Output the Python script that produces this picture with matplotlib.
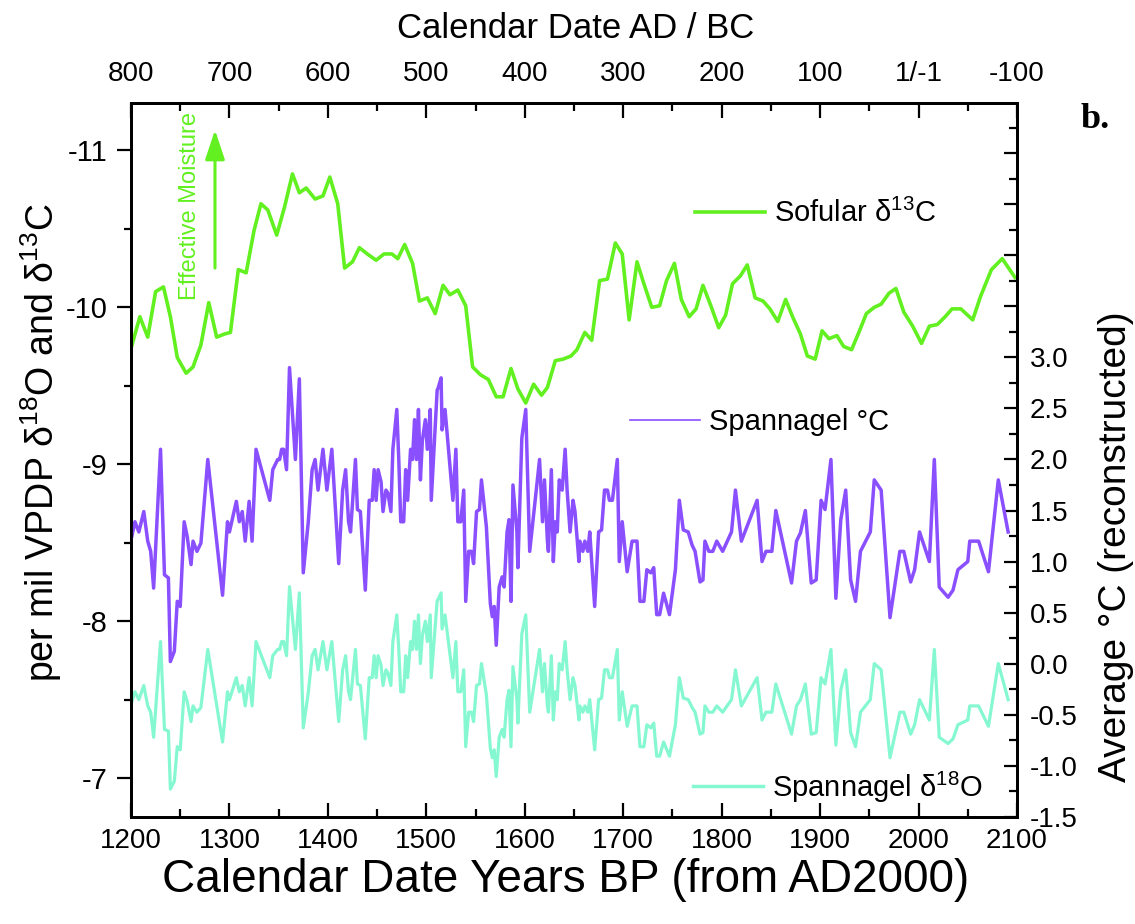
import numpy as np
import matplotlib
matplotlib.use("Agg")
import matplotlib.pyplot as plt
from matplotlib.lines import Line2D
from matplotlib.ticker import MultipleLocator

plt.rcParams["font.family"] = ["Liberation Sans", "DejaVu Sans"]
plt.rcParams["mathtext.fontset"] = "custom"
plt.rcParams["mathtext.rm"] = "Liberation Sans"
plt.rcParams["mathtext.it"] = "Liberation Sans:italic"
plt.rcParams["axes.unicode_minus"] = False

# -------- Sofular d13C (left axis, permil)
sof_years = [1201, 1209, 1217, 1225, 1233, 1240, 1247, 1256, 1263, 1271,
             1279, 1287, 1295, 1301, 1309, 1317, 1325, 1332, 1339, 1348,
             1356, 1364, 1371, 1378, 1387, 1395, 1402, 1410, 1417, 1425,
             1432, 1440, 1449, 1457, 1465, 1471, 1478, 1486, 1493, 1501,
             1509, 1517, 1524, 1532, 1540, 1547, 1555, 1563, 1571, 1578,
             1586, 1593, 1601, 1609, 1617, 1623, 1631, 1639, 1647, 1653,
             1661, 1668, 1676, 1684, 1692, 1699, 1706, 1714, 1721, 1729,
             1737, 1744, 1752, 1759, 1767, 1774, 1781, 1789, 1797, 1804,
             1811, 1819, 1826, 1834, 1842, 1849, 1857, 1865, 1872, 1880,
             1887, 1895, 1902, 1909, 1917, 1924, 1932, 1940, 1947, 1955,
             1962, 1970, 1977, 1985, 1994, 2003, 2011, 2019, 2027, 2034,
             2043, 2055, 2063, 2074, 2085, 2098]
sof_d13c = [-9.76, -9.94, -9.81, -10.10, -10.13, -9.94, -9.68, -9.58, -9.62, -9.76,
            -10.03, -9.81, -9.83, -9.84, -10.24, -10.22, -10.49, -10.66, -10.62, -10.46,
            -10.64, -10.85, -10.73, -10.76, -10.69, -10.71, -10.83, -10.66, -10.25, -10.29,
            -10.38, -10.34, -10.30, -10.34, -10.34, -10.31, -10.40, -10.28, -10.04, -10.06,
            -9.96, -10.14, -10.08, -10.11, -10.01, -9.62, -9.57, -9.54, -9.43, -9.43,
            -9.61, -9.48, -9.39, -9.51, -9.44, -9.49, -9.66, -9.67, -9.69, -9.73,
            -9.84, -9.79, -10.17, -10.18, -10.41, -10.34, -9.92, -10.29, -10.15, -10.00,
            -10.01, -10.17, -10.28, -10.05, -9.94, -9.99, -10.14, -10.01, -9.87, -9.95,
            -10.15, -10.20, -10.27, -10.06, -10.04, -9.99, -9.91, -10.05, -9.94, -9.83,
            -9.69, -9.67, -9.85, -9.80, -9.82, -9.75, -9.73, -9.85, -9.96, -10.00,
            -10.02, -10.09, -10.12, -9.97, -9.88, -9.77, -9.88, -9.89, -9.94, -9.99,
            -9.99, -9.92, -10.07, -10.24, -10.31, -10.19]

# -------- Spannagel (d18O on left axis, temperature on right axis)
span_years = [1200, 1204, 1208, 1213, 1217, 1220, 1223, 1230, 1234, 1238,
              1240, 1244, 1247, 1250, 1254, 1257, 1261, 1263, 1267, 1271,
              1278, 1293, 1298, 1300, 1307, 1310, 1313, 1316, 1320, 1323,
              1327, 1341, 1344, 1349, 1351, 1353, 1355, 1358, 1361, 1367,
              1371, 1375, 1380, 1384, 1387, 1390, 1395, 1399, 1404, 1411,
              1415, 1418, 1421, 1423, 1428, 1430, 1433, 1438, 1442, 1445,
              1447, 1449, 1451, 1454, 1456, 1459, 1461, 1464, 1466, 1470,
              1472, 1474, 1477, 1479, 1481, 1484, 1486, 1488, 1490, 1492,
              1494, 1496, 1499, 1501, 1504, 1505, 1511, 1512, 1515, 1516,
              1519, 1527, 1530, 1532, 1535, 1538, 1540, 1543, 1546, 1548,
              1551, 1554, 1556, 1561, 1565, 1567, 1569, 1571, 1574, 1577,
              1579, 1582, 1584, 1586, 1588, 1592, 1593, 1597, 1601, 1605,
              1615, 1618, 1620, 1623, 1624, 1627, 1629, 1631, 1633, 1635,
              1638, 1641, 1643, 1646, 1649, 1651, 1655, 1656, 1659, 1661,
              1664, 1666, 1671, 1675, 1678, 1681, 1684, 1686, 1689, 1694,
              1696, 1699, 1704, 1709, 1714, 1717, 1721, 1724, 1728, 1731,
              1734, 1737, 1741, 1747, 1753, 1757, 1761, 1766, 1770, 1773,
              1778, 1781, 1783, 1787, 1791, 1795, 1801, 1810, 1814, 1820,
              1836, 1841, 1845, 1851, 1855, 1871, 1876, 1880, 1885, 1891,
              1896, 1901, 1905, 1911, 1916, 1921, 1926, 1931, 1936, 1941,
              1951, 1955, 1962, 1971, 1981, 1985, 1992, 1996, 2001, 2011,
              2016, 2021, 2030, 2035, 2040, 2050, 2052, 2061, 2071, 2081,
              2091]
span_temp = [1.21, 1.39, 1.29, 1.49, 1.20, 1.10, 0.74, 2.10, 0.87, 0.84,
             0.02, 0.12, 0.61, 0.56, 1.39, 1.25, 0.97, 1.20, 1.10, 1.18,
             2.00, 0.67, 1.39, 1.29, 1.59, 1.39, 1.49, 1.20, 1.59, 1.20,
             2.10, 1.60, 1.90, 2.00, 2.00, 2.10, 2.10, 1.90, 2.90, 2.00,
             2.79, 0.89, 1.38, 1.90, 2.00, 1.70, 2.10, 1.70, 2.10, 0.98,
             1.70, 1.90, 1.39, 1.29, 2.00, 1.51, 1.49, 0.72, 1.60, 1.60,
             1.90, 1.60, 1.90, 1.78, 1.49, 1.70, 1.67, 1.49, 2.10, 2.49,
             2.00, 1.39, 1.39, 1.90, 1.60, 2.10, 2.00, 2.39, 2.00, 2.49,
             1.80, 2.19, 2.39, 2.10, 2.49, 1.60, 2.68, 2.70, 2.80, 2.29,
             2.49, 1.60, 2.10, 1.39, 1.39, 1.70, 0.61, 1.10, 1.10, 0.98,
             1.49, 1.51, 1.80, 1.34, 0.59, 0.46, 0.56, 0.18, 0.75, 0.85,
             0.75, 1.29, 1.41, 0.61, 1.75, 1.29, 0.94, 2.21, 2.49, 1.10,
             2.00, 1.39, 1.80, 1.20, 1.10, 1.90, 1.00, 1.39, 1.29, 1.80,
             1.70, 2.10, 1.70, 1.29, 1.60, 1.49, 1.00, 1.20, 1.10, 1.20,
             1.10, 1.29, 0.56, 1.29, 1.31, 1.70, 1.70, 1.60, 1.60, 2.00,
             1.00, 1.39, 0.90, 1.20, 1.20, 0.61, 0.61, 0.92, 0.89, 0.94,
             0.48, 0.48, 0.69, 0.48, 0.92, 1.60, 1.31, 1.29, 1.16, 1.10,
             0.80, 0.82, 1.20, 1.10, 1.10, 1.20, 1.10, 1.29, 1.70, 1.20,
             1.60, 1.00, 1.10, 1.10, 1.50, 0.79, 1.20, 1.28, 1.50, 0.79,
             0.82, 1.60, 1.51, 2.00, 0.64, 1.41, 1.70, 0.82, 0.61, 1.10,
             1.29, 1.80, 1.70, 0.45, 1.10, 1.10, 0.80, 0.92, 1.29, 1.00,
             2.00, 0.75, 0.65, 0.72, 0.92, 1.00, 1.20, 1.20, 0.90, 1.80,
             1.29]
span_d18o = [-7.47, -7.55, -7.50, -7.59, -7.46, -7.42, -7.26, -7.87, -7.31, -7.30,
             -6.93, -6.98, -7.20, -7.18, -7.55, -7.49, -7.36, -7.46, -7.42, -7.45,
             -7.82, -7.23, -7.55, -7.50, -7.64, -7.55, -7.59, -7.46, -7.64, -7.46,
             -7.87, -7.64, -7.78, -7.82, -7.82, -7.87, -7.87, -7.78, -8.22, -7.82,
             -8.18, -7.32, -7.54, -7.78, -7.82, -7.69, -7.87, -7.69, -7.87, -7.36,
             -7.69, -7.78, -7.55, -7.50, -7.82, -7.60, -7.59, -7.25, -7.64, -7.64,
             -7.78, -7.64, -7.78, -7.72, -7.59, -7.69, -7.67, -7.59, -7.87, -8.04,
             -7.82, -7.55, -7.55, -7.78, -7.64, -7.87, -7.82, -8.00, -7.82, -8.04,
             -7.73, -7.91, -8.00, -7.87, -8.04, -7.64, -8.13, -8.14, -8.18, -7.95,
             -8.04, -7.64, -7.87, -7.55, -7.55, -7.69, -7.20, -7.42, -7.42, -7.36,
             -7.59, -7.60, -7.73, -7.53, -7.19, -7.13, -7.18, -7.01, -7.26, -7.31,
             -7.26, -7.50, -7.56, -7.20, -7.71, -7.50, -7.35, -7.92, -8.04, -7.42,
             -7.82, -7.55, -7.73, -7.46, -7.42, -7.78, -7.37, -7.55, -7.50, -7.73,
             -7.69, -7.87, -7.69, -7.50, -7.64, -7.59, -7.37, -7.46, -7.42, -7.46,
             -7.42, -7.50, -7.18, -7.50, -7.51, -7.69, -7.69, -7.64, -7.64, -7.82,
             -7.37, -7.55, -7.33, -7.46, -7.46, -7.20, -7.20, -7.34, -7.32, -7.35,
             -7.14, -7.14, -7.23, -7.14, -7.34, -7.64, -7.51, -7.50, -7.45, -7.42,
             -7.28, -7.29, -7.46, -7.42, -7.42, -7.46, -7.42, -7.50, -7.69, -7.46,
             -7.64, -7.37, -7.42, -7.42, -7.60, -7.28, -7.46, -7.50, -7.60, -7.28,
             -7.29, -7.64, -7.60, -7.82, -7.21, -7.56, -7.69, -7.29, -7.20, -7.42,
             -7.50, -7.73, -7.69, -7.13, -7.42, -7.42, -7.28, -7.34, -7.50, -7.37,
             -7.82, -7.26, -7.22, -7.25, -7.34, -7.37, -7.46, -7.46, -7.33, -7.73,
             -7.50]

# -------- ticks
bp_ticks = list(range(1200, 2101, 100))
ad_labels = ["800", "700", "600", "500", "400", "300", "200", "100", "1/-1", "-100"]
left_ticks = [-11, -10, -9, -8, -7]
left_labels = ["-11", "-10", "-9", "-8", "-7"]
right_ticks = [-1.5, -1.0, -0.5, 0.0, 0.5, 1.0, 1.5, 2.0, 2.5, 3.0, 3.5, 4.0, 4.5, 5.0]
right_labels = ["-1.5", "-1.0", "-0.5", "0.0", "0.5", "1.0", "1.5", "2.0", "2.5", "3.0",
                "", "", "", ""]

GREEN = "#62F020"
PURPLE = "#8A4FFF"
TEAL = "#85F8D2"

W, H = 1135, 924
fig = plt.figure(figsize=(W / 100, H / 100), dpi=100)
ax = fig.add_axes([131 / W, 1 - 816.7 / H, 886 / W, 713.4 / H])
ax2 = ax.twinx()

ax.plot(sof_years, sof_d13c, color=GREEN, lw=2.6)
ax.plot(span_years, span_d18o, color=TEAL, lw=2.3)
ax2.plot(span_years, span_temp, color=PURPLE, lw=2.5)

ax.set_xlim(1200, 2100)
ax.set_ylim(-6.754, -11.30)
ax2.set_ylim(-1.5, 5.49)

# bottom axis
ax.set_xticks(bp_ticks)
ax.xaxis.set_minor_locator(MultipleLocator(50))
ax.tick_params(axis="x", which="major", direction="in", length=10, width=1.6,
               labelsize=20, pad=8)
ax.tick_params(axis="x", which="minor", direction="in", length=6, width=1.6)

# left axis
ax.set_yticks(left_ticks, left_labels)
ax.yaxis.set_minor_locator(MultipleLocator(0.5))
ax.tick_params(axis="y", which="major", direction="out", length=10, width=1.6,
               labelsize=21, pad=7)
ax.tick_params(axis="y", which="minor", direction="out", length=5, width=1.6)

# right axis
ax2.set_yticks(right_ticks, right_labels)
ax2.yaxis.set_minor_locator(MultipleLocator(0.25))
ax2.tick_params(axis="y", which="major", direction="in", length=9.5, width=1.6,
                labelsize=20, pad=9)
ax2.tick_params(axis="y", which="minor", direction="in", length=6, width=1.6)

# top axis (calendar dates)
top = ax.secondary_xaxis("top")
top.set_xticks(bp_ticks, ad_labels)
top.xaxis.set_minor_locator(MultipleLocator(50))
top.tick_params(axis="x", which="major", direction="in", length=11, width=1.6,
                labelsize=20, pad=12)
top.tick_params(axis="x", which="minor", direction="in", length=6, width=1.6)

for a in (ax, ax2, top):
    for s in a.spines.values():
        s.set_linewidth(2.0)

# legends
h1 = Line2D([], [], color=GREEN, lw=2.6)
h2 = Line2D([], [], color=PURPLE, lw=1.2)
h3 = Line2D([], [], color=TEAL, lw=2.5)
leg_kw = dict(loc="center left", frameon=False, fontsize=21, handlelength=2.4,
              handletextpad=0.3, borderpad=0, borderaxespad=0)
leg1 = ax.legend([h1], ["Sofular δ$^{13}$C"], bbox_to_anchor=(0.6366, 0.846), **leg_kw)
ax.add_artist(leg1)
leg2 = ax.legend([h2], ["Spannagel °C"], bbox_to_anchor=(0.5632, 0.553), **leg_kw)
ax.add_artist(leg2)
ax.legend([h3], ["Spannagel δ$^{18}$O"], bbox_to_anchor=(0.6343, 0.0416), **leg_kw)

# effective moisture arrow
ax.text(0.0666, 0.856, "Effective Moisture", transform=ax.transAxes, rotation=90,
        color=GREEN, fontsize=17, ha="center", va="center")
ax.annotate("", xy=(0.0948, 0.9626), xytext=(0.0948, 0.769), xycoords="axes fraction",
            arrowprops=dict(arrowstyle="-|>,head_length=0.9,head_width=0.3",
                            color=GREEN, lw=2.2, mutation_scale=20,
                            shrinkA=0, shrinkB=0))

# axis titles
fig.text(566 / W, 1 - 880 / H, "Calendar Date Years BP (from AD2000)",
         fontsize=33, ha="center", va="center")
fig.text(576 / W, 1 - 28 / H, "Calendar Date AD / BC", fontsize=25,
         ha="center", va="center")
fig.text(41 / W, 1 - 443 / H, "per mil VPDP δ$^{18}$O and δ$^{13}$C",
         rotation=90, fontsize=27, ha="center", va="center")
fig.text(1116 / W, 1 - 547 / H, "Average °C (reconstructed)",
         rotation=90, fontsize=28, ha="center", va="center")
fig.text(1095 / W, 1 - 120 / H, "b.", fontsize=26, fontweight="bold",
         family="Liberation Serif", ha="center", va="center")

fig.savefig("out.png", dpi=100)
